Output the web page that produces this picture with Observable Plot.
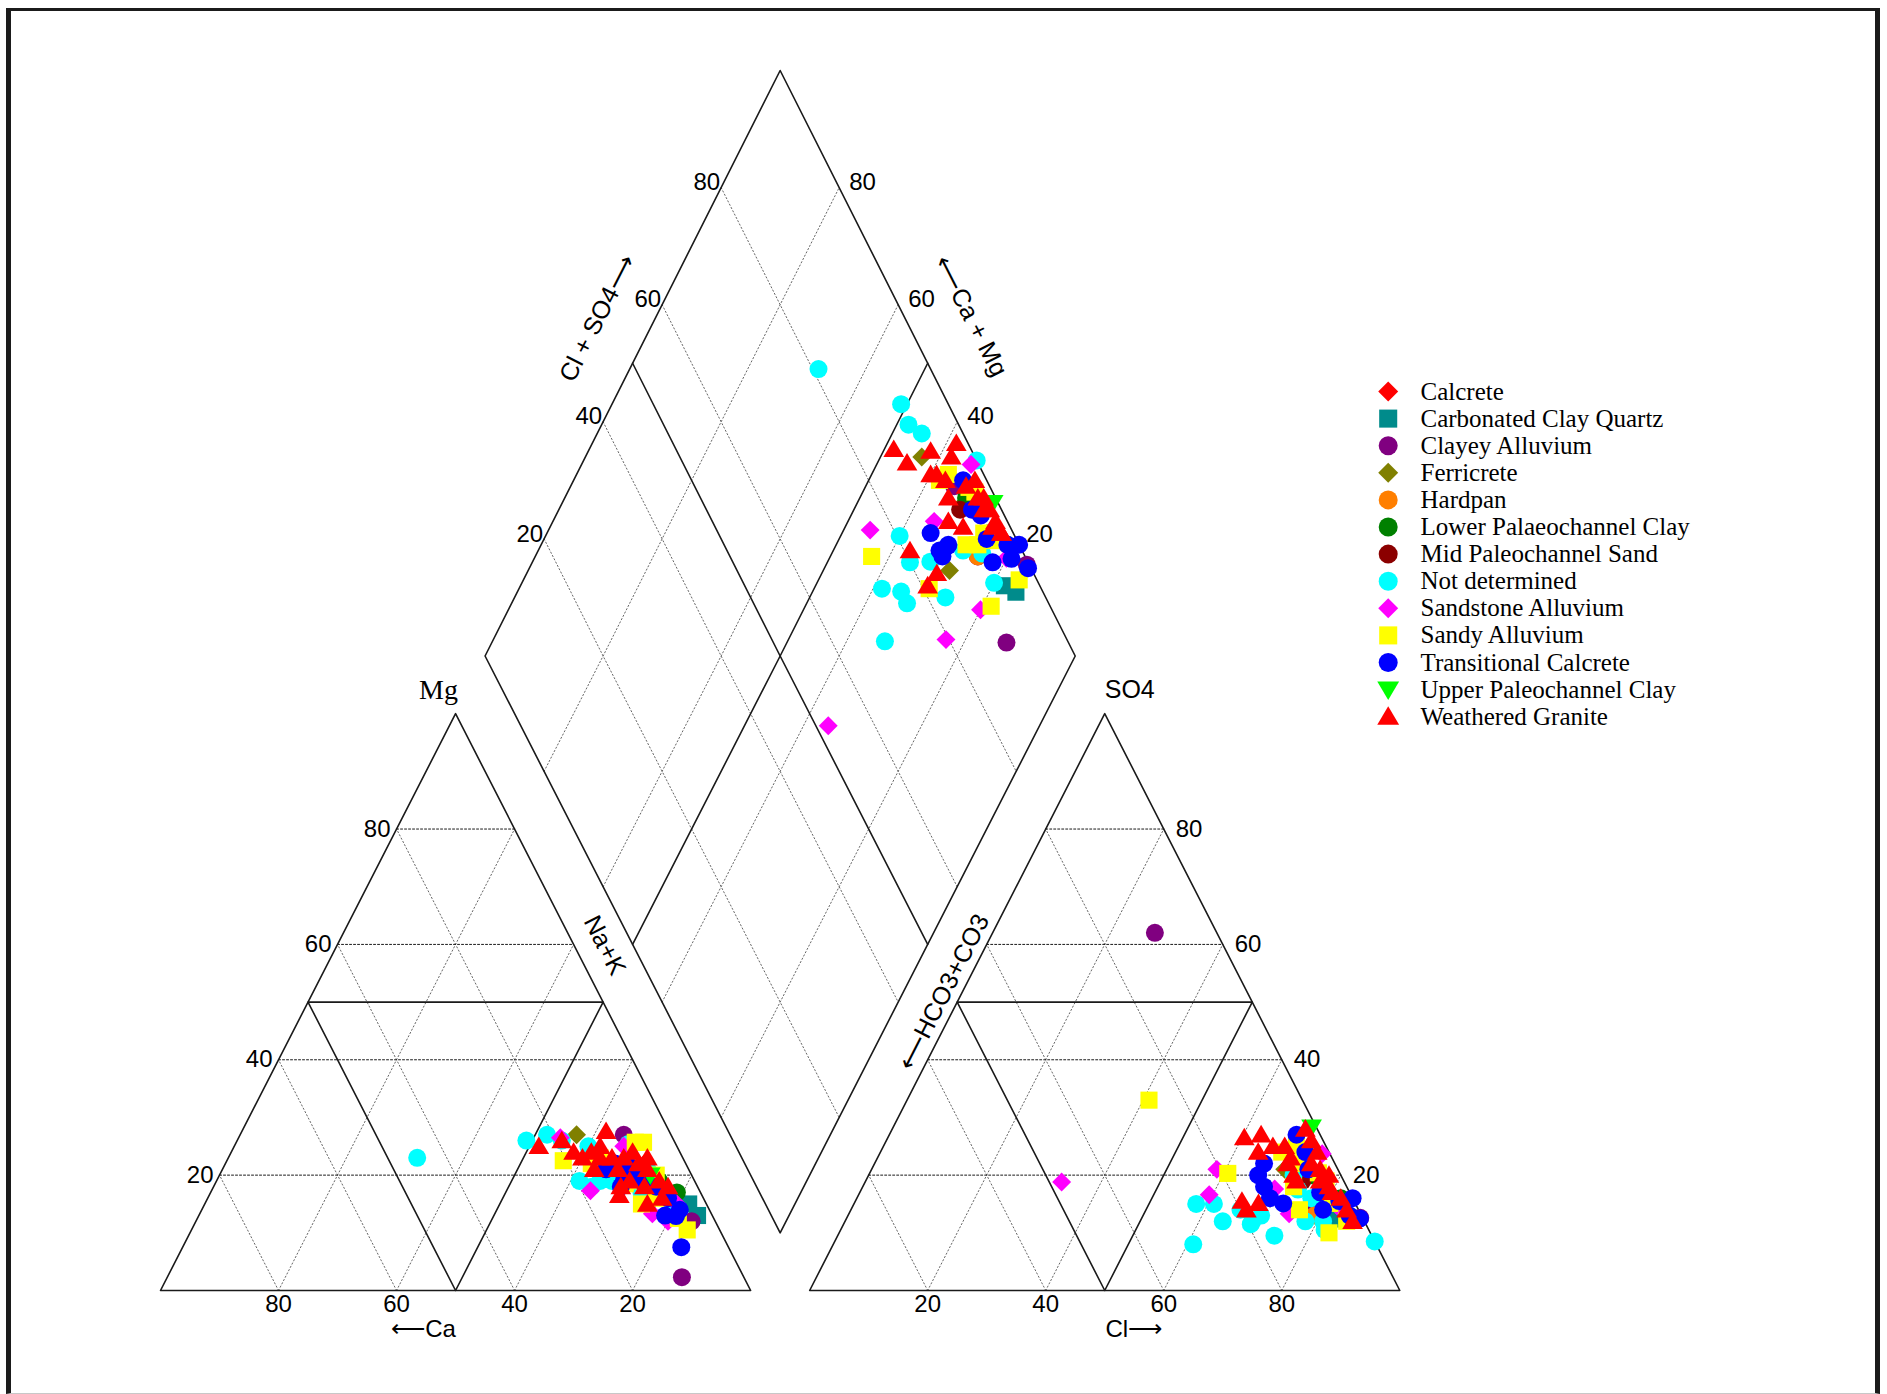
<!DOCTYPE html>
<html><head><meta charset="utf-8">
<script src="https://cdn.jsdelivr.net/npm/d3@7"></script>
<script src="https://cdn.jsdelivr.net/npm/@observablehq/plot@0.6"></script>
<style>
html,body{margin:0;padding:0;background:#fff;}
#page{position:relative;width:1887px;height:1394px;overflow:hidden;background:#fff;}
#frame{position:absolute;left:6px;top:8px;width:1874px;height:1386px;box-sizing:border-box;border-top:3.5px solid #1b1b1b;border-left:5px solid #1b1b1b;border-right:5px solid #1b1b1b;border-bottom:1px solid #c8c8c8;}
#chart{position:absolute;left:0;top:0;}
#legend{position:absolute;left:1370px;top:360px;}
</style></head>
<body><div id="page"><div id="frame"></div><div id="chart"></div><div id="legend"></div></div>
<script>
// ---------------- data ----------------
const categories = ["Calcrete","Carbonated Clay Quartz","Clayey Alluvium","Ferricrete","Hardpan",
  "Lower Palaeochannel Clay","Mid Paleochannel Sand","Not determined","Sandstone Alluvium",
  "Sandy Alluvium","Transitional Calcrete","Upper Paleochannel Clay","Weathered Granite"];
const colors = ["#FF0000","#008B8B","#800080","#808000","#FF7F00","#008000","#8B0000",
  "#00FFFF","#FF00FF","#FFFF00","#0000FF","#00FF00","#FF0000"];
const shapes = ["diamond","square","circle","diamond","circle","circle","circle","circle",
  "diamond","square","circle","triDown","triUp"];

// one entry per sample: group, cations (% meq Ca, Mg; Na+K = rest), anions (% Cl, SO4; HCO3+CO3 = rest)
const sampleGroup = [
  "Calcrete","Calcrete",
  "Carbonated Clay Quartz","Carbonated Clay Quartz",
  "Clayey Alluvium","Clayey Alluvium","Clayey Alluvium","Clayey Alluvium",
  "Ferricrete","Ferricrete","Ferricrete",
  "Hardpan",
  "Lower Palaeochannel Clay","Lower Palaeochannel Clay","Lower Palaeochannel Clay",
  "Mid Paleochannel Sand",
  "Not determined","Not determined","Not determined","Not determined","Not determined","Not determined",
  "Not determined","Not determined","Not determined","Not determined","Not determined","Not determined",
  "Not determined","Not determined","Not determined","Not determined",
  "Sandstone Alluvium","Sandstone Alluvium","Sandstone Alluvium","Sandstone Alluvium",
  "Sandstone Alluvium","Sandstone Alluvium","Sandstone Alluvium",
  "Sandy Alluvium","Sandy Alluvium","Sandy Alluvium","Sandy Alluvium","Sandy Alluvium","Sandy Alluvium",
  "Sandy Alluvium","Sandy Alluvium","Sandy Alluvium","Sandy Alluvium","Sandy Alluvium","Sandy Alluvium",
  "Transitional Calcrete","Transitional Calcrete","Transitional Calcrete","Transitional Calcrete",
  "Transitional Calcrete","Transitional Calcrete","Transitional Calcrete","Transitional Calcrete",
  "Transitional Calcrete","Transitional Calcrete","Transitional Calcrete","Transitional Calcrete",
  "Transitional Calcrete","Transitional Calcrete",
  "Upper Paleochannel Clay",
  "Weathered Granite","Weathered Granite","Weathered Granite","Weathered Granite","Weathered Granite",
  "Weathered Granite","Weathered Granite","Weathered Granite","Weathered Granite","Weathered Granite",
  "Weathered Granite","Weathered Granite","Weathered Granite","Weathered Granite","Weathered Granite",
  "Weathered Granite","Weathered Granite","Weathered Granite","Weathered Granite","Weathered Granite",
  "Weathered Granite","Weathered Granite","Weathered Granite","Weathered Granite"
];
const sampleCa = [
  9,7,
  3,2.5,
  10.5,8,4,10,
  16,9,10,
  8,
  6,10,4,
  11,
  45,25,21,19,19.5,16,14,14,12,15,8,8,6,10,7,18,
  19,18.5,10,9,13,8,5,
  20.5,12,6,6.7,5.3,14,8,9,11,6,16,5.5,
  8,6.2,5,12,9,11,13,7,9,10,6,14,8,12,
  7,
  23.4,10.7,10,16,14,15,13,12,8,7,6,9,5,11,14,17,18,19,7,10,8,12,6,13
];
const sampleMg = [
  20,22,
  15,13,
  2.3,27,12,15,
  27,19.6,22,
  17,
  19,22,17,
  21,
  23,26,27,26,19,19,19,19.5,20.6,25,16.5,25.4,14,17,21,18,
  26.5,17.3,13.3,25,22.4,12,15,
  22.5,18.5,12.5,25.7,25.7,23,16,19,15,20,22,10.5,
  7.5,12.9,14,19,19,20,18,18,21,22,16,21,13,22,
  20,
  25,27.6,23,21,16.5,24,25,23,22,21,19,18,18,19,23,23,24,26,16,15,24,21,23,18
];
const sampleCl = [
  76,78,
  80,83,
  27.5,73,87,78,
  70,70,72,
  79,
  80,75,82,
  74,
  69,72,74,77,58,61,64,61,74,69,81,91.5,82,70,78,66,
  59.4,33.3,58.5,75,70,74.6,82,
  41,60.7,76,76,78,72,80.6,73,83,70,68,85,
  87,82,84,72.7,69,66,70,78,74,68,80,66,85,72,
  70.9,
  60.4,70,63,65.5,68.5,72,74,70,76,79,80,78,82,73,68,66,70,64,86,84,74,77,72,67
];
const sampleSO4 = [
  20,18,
  14,12.4,
  62,21,12.6,14,
  21,16,22,
  13,
  16,20,16,
  19,
  12,20,17.5,16,15,15,12,8,9.5,11.5,12,8.5,10.5,13,12,14,
  16.6,18.8,21,23.7,17.6,13.3,14.7,
  33,20.3,14,20.4,19,22,15.1,18,10,25,24,12,
  12.5,15.5,16,15.1,27,22,16,17,21,18,14,20,13,24,
  28.3,
  26.5,28,27,15.5,15.1,20,22,22,21,18,17,20,16,19,25,25,23,24,12,14,24,19,26,14
];
const tickValues = [20, 40, 60, 80];

// ---------------- geometry (ternary -> plane) ----------------
const H = Math.sqrt(3) / 2, GAP = 0.1;
const cat = (ca, mg) => ({x: (100 - ca - mg) / 100 + mg / 200, y: mg / 100 * H});
const an = (cl, so4) => ({x: 1 + GAP + cl / 100 + so4 / 200, y: so4 / 100 * H});
const dia = (a, n) => ({x: 0.5 + GAP / 2 + 0.5 * (a + n) / 100, y: H * (1 + GAP) + H * (a - n) / 100});

// ---------------- frame lines ----------------
const solid = [], dotted = [], dottedH = [];
let lid = 0;
const poly = (arr, pts) => { const id = lid++; pts.forEach(p => arr.push({...p, id})); };
poly(solid, [cat(100,0), cat(0,0), cat(0,100), cat(100,0)]);
poly(solid, [cat(50,0), cat(50,50), cat(0,50), cat(50,0)]);
poly(solid, [an(0,0), an(100,0), an(0,100), an(0,0)]);
poly(solid, [an(50,0), an(50,50), an(0,50), an(50,0)]);
poly(solid, [dia(0,0), dia(100,0), dia(100,100), dia(0,100), dia(0,0)]);
poly(solid, [dia(50,0), dia(50,50), dia(50,100)]);
poly(solid, [dia(0,50), dia(50,50), dia(100,50)]);
for (const v of tickValues) {
  poly(dotted, [cat(v,0), cat(v,100-v)]);
  poly(dotted, [cat(100-v,0), cat(0,100-v)]);
  poly(dottedH, [cat(100-v,v), cat(0,v)]);
  poly(dotted, [an(v,0), an(v,100-v)]);
  poly(dotted, [an(100-v,0), an(0,100-v)]);
  poly(dottedH, [an(0,v), an(100-v,v)]);
  poly(dotted, [dia(v,0), dia(v,v), dia(v,100)]);
  poly(dotted, [dia(0,v), dia(v,v), dia(100,v)]);
}

// tick labels
const lab = (p, t) => ({...p, t: String(t)});
const tkMg = tickValues.map(v => lab(cat(100-v, v), v));
const tkCa = tickValues.map(v => lab(cat(v, 0), v));
const tkSO4 = tickValues.map(v => lab(an(100-v, v), v));
const tkCl = tickValues.map(v => lab(an(v, 0), v));
const tkClSO4 = tickValues.map(v => lab(dia(v, 0), v));
const tkCaMg = tickValues.map(v => lab(dia(100, 100-v), v));

// ---------------- points ----------------
const samples = sampleGroup.map((g, i) => ({g, ca: sampleCa[i], mg: sampleMg[i], cl: sampleCl[i], so4: sampleSO4[i]}));
const points = [];
for (const s of samples) {
  points.push({g: s.g, ...cat(s.ca, s.mg)});
  points.push({g: s.g, ...an(s.cl, s.so4)});
  points.push({g: s.g, ...dia(s.cl + s.so4, 100 - s.ca - s.mg)});
}

const symbols = {
  circle: {draw(c, s) { const r = Math.sqrt(s / Math.PI); c.moveTo(r, 0); c.arc(0, 0, r, 0, 2 * Math.PI); }},
  square: {draw(c, s) { const r = Math.sqrt(s / Math.PI) * 0.95; c.moveTo(-r, -r); c.lineTo(r, -r); c.lineTo(r, r); c.lineTo(-r, r); c.closePath(); }},
  diamond: {draw(c, s) { const r = Math.sqrt(s / Math.PI) * 1.05; c.moveTo(0, -r); c.lineTo(r, 0); c.lineTo(0, r); c.lineTo(-r, 0); c.closePath(); }},
  triUp: {draw(c, s) { const r = Math.sqrt(s / Math.PI); c.moveTo(0, -1.1 * r); c.lineTo(1.15 * r, 0.85 * r); c.lineTo(-1.15 * r, 0.85 * r); c.closePath(); }},
  triDown: {draw(c, s) { const r = Math.sqrt(s / Math.PI); c.moveTo(0, 1.1 * r); c.lineTo(1.15 * r, -0.85 * r); c.lineTo(-1.15 * r, -0.85 * r); c.closePath(); }}
};

const SANS = "Liberation Sans, Arial, Helvetica, sans-serif";
const SERIF = "Liberation Serif, Times New Roman, serif";
const tickOpts = {x: "x", y: "y", text: "t", fontFamily: SANS, fontSize: 24, fill: "black"};

const chart = Plot.plot({
  width: 1887, height: 1394, margin: 0,
  style: {background: "transparent"},
  x: {type: "linear", domain: [0, 2 + GAP], range: [160, 1399.3], axis: null},
  y: {type: "linear", domain: [0, H * (1 + GAP), H * (2 + GAP)], range: [1290, 655.5, 70], axis: null},
  marks: [
    Plot.line(dotted, {x: "x", y: "y", z: "id", stroke: "#666", strokeWidth: 1, strokeDasharray: "1.3,2.4"}),
    Plot.line(dottedH, {x: "x", y: "y", z: "id", stroke: "#1a1a1a", strokeWidth: 1, strokeDasharray: "2,2"}),
    Plot.line(solid, {x: "x", y: "y", z: "id", stroke: "#1a1a1a", strokeWidth: 1.6}),
    Plot.text(tkMg, {...tickOpts, textAnchor: "end", dx: -6}),
    Plot.text(tkCa, {...tickOpts, dy: 14}),
    Plot.text(tkSO4, {...tickOpts, textAnchor: "start", dx: 12}),
    Plot.text(tkCl, {...tickOpts, dy: 14}),
    Plot.text(tkClSO4, {...tickOpts, textAnchor: "end", dx: -1, dy: -5}),
    Plot.text(tkCaMg, {...tickOpts, textAnchor: "start", dx: 10, dy: -5}),
    // axis titles
    Plot.text([cat(0,100)], {x: "x", y: "y", text: () => "Mg", fontFamily: SERIF, fontSize: 28, dx: -17, dy: -24, fill: "black"}),
    Plot.text([an(0,100)], {x: "x", y: "y", text: () => "SO4", fontFamily: SANS, fontSize: 25, dx: 25, dy: -24, fill: "black"}),
    Plot.text([cat(50,0)], {x: "x", y: "y", text: () => "\u27F5Ca", fontFamily: SANS, fontSize: 24, dx: -32, dy: 39, fill: "black"}),
    Plot.text([an(50,0)], {x: "x", y: "y", text: () => "Cl\u27F6", fontFamily: SANS, fontSize: 24, dx: 29, dy: 39, fill: "black"}),
    Plot.text([dia(50,0)], {x: "x", y: "y", text: () => "Cl + SO4\u27F6", fontFamily: SANS, fontSize: 25, rotate: -63, dx: -35, dy: -45, fill: "black"}),
    Plot.text([dia(100,50)], {x: "x", y: "y", text: () => "\u27F5Ca + Mg", fontFamily: SANS, fontSize: 25, rotate: 63, dx: 43, dy: -47, fill: "black"}),
    Plot.text([dia(0,50)], {x: "x", y: "y", text: () => "Na+K", fontFamily: SANS, fontSize: 25, rotate: 63, dx: -28, dy: 1, fill: "black"}),
    Plot.text([dia(50,100)], {x: "x", y: "y", text: () => "\u27F5HCO3+CO3", fontFamily: SANS, fontSize: 25, rotate: -63, dx: 16, dy: 48, fill: "black"}),
    // samples
    ...categories.map((c, i) => Plot.dot(points.filter(p => p.g === c), {x: "x", y: "y", symbol: symbols[shapes[i]], fill: colors[i], r: 9}))
  ]
});
document.getElementById("chart").appendChild(chart);

const legendRows = categories.map((c, i) => ({i, c}));
const legend = Plot.plot({
  width: 480, height: 380, margin: 0,
  style: {background: "transparent"},
  x: {type: "linear", domain: [0, 1], range: [17.7, 50], axis: null},
  y: {type: "linear", domain: [0, 12], range: [31, 31 + 27.1 * 12], axis: null},
  marks: [
    ...legendRows.map((d, i) => Plot.dot([d], {x: () => 0, y: "i", symbol: symbols[shapes[i]], fill: colors[i], r: 9.5})),
    Plot.text(legendRows, {x: () => 1, y: "i", text: "c", textAnchor: "start", fontFamily: SERIF, fontSize: 25, fill: "black"})
  ]
});
document.getElementById("legend").appendChild(legend);
</script>
</body></html>
